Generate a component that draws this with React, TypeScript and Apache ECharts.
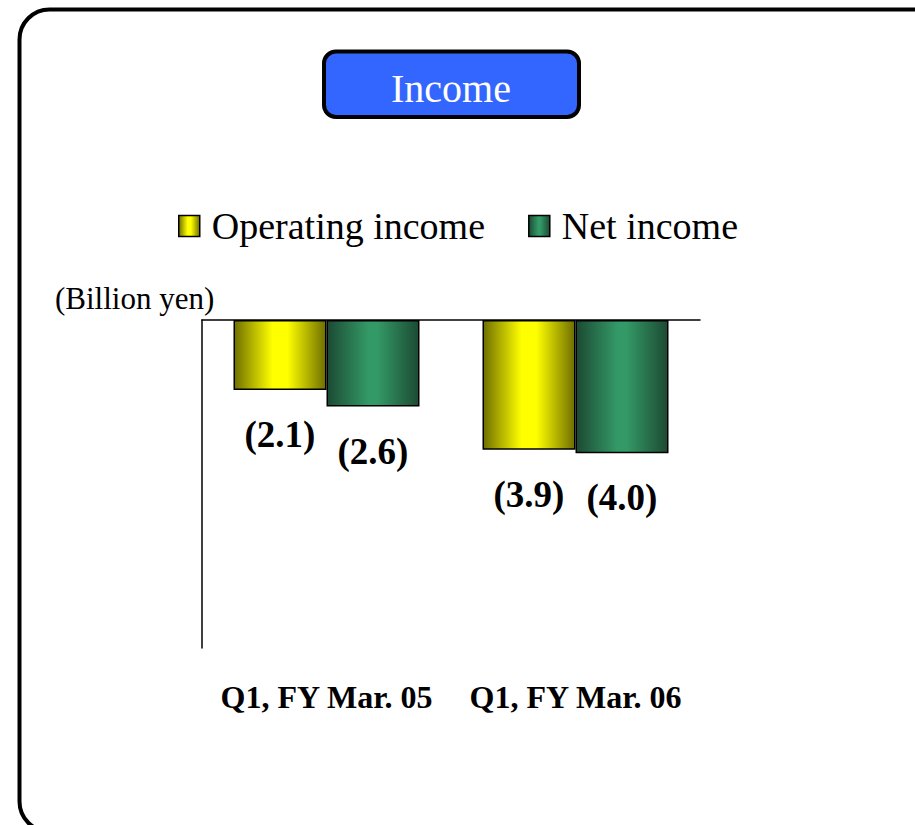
import React, { useEffect, useRef } from "react";
import * as echarts from "echarts";

const categories = ["Q1, FY Mar. 05", "Q1, FY Mar. 06"];
const operatingIncome = [-2.1, -3.9];
const netIncome = [-2.6, -4.0];
const seriesNames = ["Operating income", "Net income"];
const unitLabel = "(Billion yen)";
const titleText = "Income";

const SERIF = "'Liberation Serif', 'Times New Roman', serif";

const yellowGrad = new echarts.graphic.LinearGradient(0, 0, 1, 0, [
  { offset: 0, color: "#6f6f00" },
  { offset: 0.42, color: "#ffff00" },
  { offset: 0.58, color: "#ffff00" },
  { offset: 1, color: "#6f6f00" },
]);
const greenGrad = new echarts.graphic.LinearGradient(0, 0, 1, 0, [
  { offset: 0, color: "#1c4a33" },
  { offset: 0.45, color: "#339966" },
  { offset: 0.55, color: "#339966" },
  { offset: 1, color: "#1c4a33" },
]);

const fmt = (p: any) => `(${Math.abs(p.value).toFixed(1)})`;

export default function App() {
  const ref = useRef<HTMLDivElement>(null);
  useEffect(() => {
    if (!ref.current) return;
    const chart = echarts.init(ref.current, null, { renderer: "svg" });
    const labelCfg = {
      show: true,
      position: "bottom",
      distance: 26,
      formatter: fmt,
      color: "#000",
      fontFamily: SERIF,
      fontWeight: "bold",
      fontSize: 37,
    };
    chart.setOption({
      animation: false,
      backgroundColor: "#fff",
      graphic: [
        {
          type: "rect",
          shape: { x: 19.5, y: 9.5, width: 960, height: 822, r: 30 },
          style: { fill: "none", stroke: "#000", lineWidth: 4 },
          z: 100,
        },
        {
          type: "rect",
          shape: { x: 324, y: 51.5, width: 255, height: 65.5, r: 12 },
          style: { fill: "#3366ff", stroke: "#000", lineWidth: 4 },
          z: 100,
        },
        {
          type: "text",
          x: 451,
          y: 88,
          style: {
            text: titleText,
            fill: "#fff",
            font: `40px ${SERIF}`,
            align: "center",
            verticalAlign: "middle",
          },
          z: 101,
        },
        {
          type: "text",
          x: 55,
          y: 298,
          style: {
            text: unitLabel,
            fill: "#000",
            font: `31px ${SERIF}`,
            align: "left",
            verticalAlign: "middle",
          },
          z: 101,
        },
      ],
      legend: {
        left: 178,
        top: 207,
        padding: 0,
        itemWidth: 21,
        itemHeight: 21,
        itemGap: 43,
        icon: "rect",
        textStyle: { fontFamily: SERIF, fontSize: 38, color: "#000", padding: [0, 0, 0, 7] },
        itemStyle: { borderColor: "#000", borderWidth: 1.5 },
        data: seriesNames,
      },
      grid: { left: 202, right: 215, top: 320, bottom: 177, containLabel: false },
      xAxis: [
        {
          type: "category",
          data: categories,
          position: "top",
          axisLine: { show: true, onZero: false, lineStyle: { color: "#000", width: 1.5 } },
          axisTick: { show: false },
          axisLabel: { show: false },
        },
        {
          type: "category",
          data: categories,
          position: "bottom",
          axisLine: { show: false },
          axisTick: { show: false },
          axisLabel: {
            interval: 0,
            margin: 33,
            color: "#000",
            fontFamily: SERIF,
            fontWeight: "bold",
            fontSize: 32,
          },
        },
      ],
      yAxis: {
        type: "value",
        min: -9.85,
        max: 0,
        axisLine: { show: true, lineStyle: { color: "#000", width: 1.5 } },
        axisTick: { show: false },
        axisLabel: { show: false },
        splitLine: { show: false },
      },
      series: [
        {
          name: seriesNames[0],
          type: "bar",
          data: operatingIncome,
          barGap: "0%",
          barCategoryGap: "25.3%",
          itemStyle: { color: yellowGrad, borderColor: "#000", borderWidth: 1.5 },
          label: labelCfg,
        },
        {
          name: seriesNames[1],
          type: "bar",
          data: netIncome,
          barGap: "0%",
          barCategoryGap: "25.3%",
          itemStyle: { color: greenGrad, borderColor: "#000", borderWidth: 1.5 },
          label: labelCfg,
        },
      ],
    });
    return () => chart.dispose();
  }, []);
  return (
    <div
      ref={ref}
      style={{ position: "fixed", left: 0, top: 0, width: 915, height: 825 }}
    />
  );
}
